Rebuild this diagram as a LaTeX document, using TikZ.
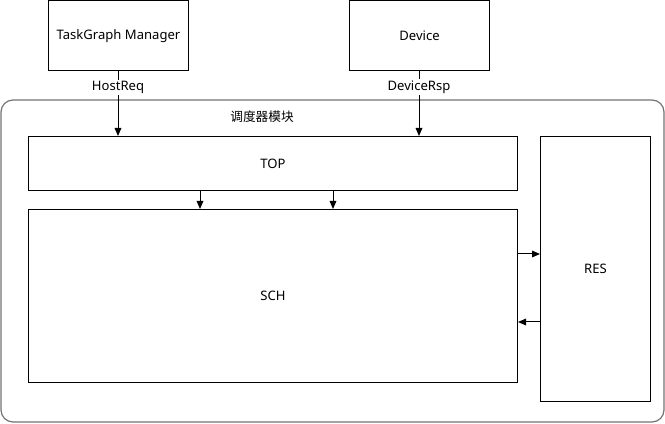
\documentclass[tikz,border=0pt]{standalone}
\usepackage{fontspec}
\setmainfont{Noto Sans}
\newfontfamily\cjk{Noto Sans CJK SC}
\usetikzlibrary{arrows.meta}
\begin{document}
\begin{tikzpicture}[x=0.75pt,y=-0.75pt,
  box/.style={draw=black,line width=0.75pt,inner sep=0pt,anchor=north west,font=\fontsize{9.8}{12}\selectfont},
  arr/.style={draw=black,line width=0.75pt,-{Triangle[length=6pt,width=5pt]}},
  lbl/.style={fill=white,inner sep=1pt,font=\fontsize{9.8}{12}\selectfont}]
\useasboundingbox (0,0) rectangle (665,424);
\draw[draw=black!55,line width=0.9pt,rounded corners=9pt] (1,100) rectangle (664,422);
\node[font=\cjk\fontsize{9.5}{11}\selectfont] (title) at (262,117) {调度器模块};
\node[box,minimum width=140*0.75pt,minimum height=70*0.75pt] (tgm) at (48,0.5) {TaskGraph Manager};
\node[box,minimum width=140*0.75pt,minimum height=70*0.75pt] (dev) at (349,0.5) {Device};
\node[box,minimum width=489*0.75pt,minimum height=54*0.75pt] (top) at (28,136) {TOP};
\node[box,minimum width=489*0.75pt,minimum height=173*0.75pt] (sch) at (28,209) {SCH};
\node[box,minimum width=110*0.75pt,minimum height=265*0.75pt] (res) at (540,136) {RES};
\coordinate (a1) at (118,70);
\coordinate (a2) at (419,70);
\draw[arr] (a1) -- (a1 |- top.north) node[lbl,pos=0.26] (hr) {HostReq};
\draw[arr] (a2) -- (a2 |- top.north) node[lbl,pos=0.26] (dr) {DeviceRsp};
\coordinate (b1) at (200,190);
\coordinate (b2) at (333,190);
\draw[arr] (b1) -- (b1 |- sch.north);
\draw[arr] (b2) -- (b2 |- sch.north);
\coordinate (c1) at (517,254);
\coordinate (c2) at (540,322);
\draw[arr] (c1) -- (c1 -| res.west);
\draw[arr] (c2) -- (c2 -| sch.east);
\end{tikzpicture}
\end{document}
